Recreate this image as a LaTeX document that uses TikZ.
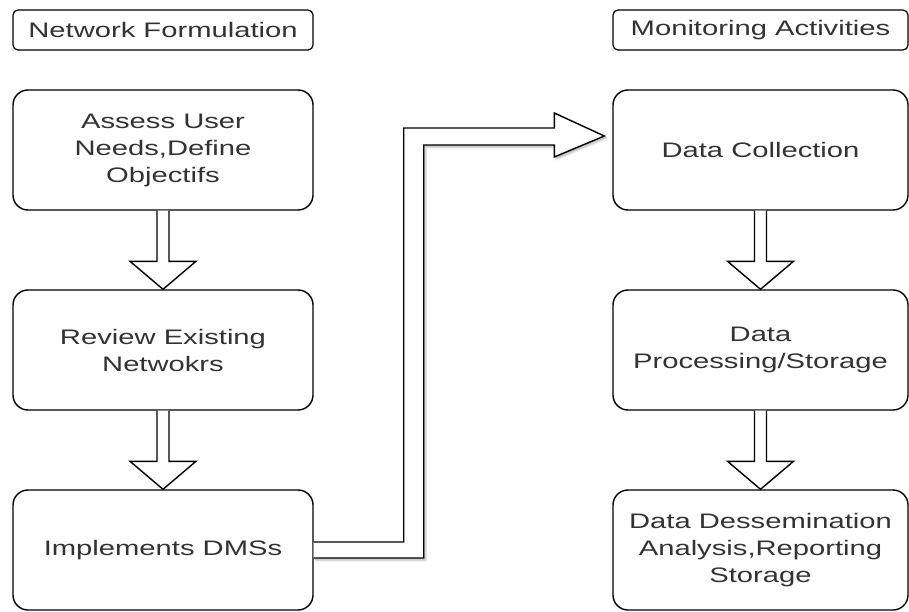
\documentclass[tikz,border=0pt]{standalone}
\usepackage{fontspec}
\setmainfont{Liberation Sans}[FakeStretch=1.39]
\usetikzlibrary{calc,shadows.blur}
\definecolor{txt}{HTML}{333333}

% hollow block arrow pointing down from one box to the next
\newcommand\dropArrow[2]{%
  \draw[blockarrow]
    ($(#1.south)+(-6,0)$) -- ($(#2.north)+(-6,-28)$) -- ($(#2.north)+(-33,-28)$)
    -- (#2.north) -- ($(#2.north)+(33,-28)$) -- ($(#2.north)+(6,-28)$)
    -- ($(#1.south)+(6,0)$);}

\begin{document}
\begin{tikzpicture}[x=1pt,y=-1pt,
  stage/.style={draw=black,line width=1.4pt,rounded corners=15pt,fill=white,
    minimum height=120pt,align=center,inner sep=0pt,text=txt,
    font=\fontsize{21}{27}\selectfont},
  leftstage/.style={stage,minimum width=300pt},
  rightstage/.style={stage,minimum width=295pt},
  header/.style={draw=black,line width=1.2pt,rounded corners=5pt,
    minimum height=40pt,inner sep=0pt,text=txt,
    font=\fontsize{21}{27}\selectfont},
  blockarrow/.style={draw=black,line width=1.4pt,fill=white,line join=miter}]

\useasboundingbox (0,0) rectangle (909,612);

% column headings
\node[header,minimum width=300pt] (hl) at (163,30) {Network Formulation};
\node[header,minimum width=295pt] (hr) at (760.5,30) {Monitoring Activities};

% network formulation steps
\node[leftstage] (needs)  at (163,150) {Assess User\\Needs,Define\\Objectifs};
\node[leftstage] (review) at (163,350) {Review Existing\\Netwokrs};
\node[leftstage] (impl)   at (163,550) {Implements DMSs};

% monitoring activities
\node[rightstage] (coll) at (760.5,150) {Data Collection};
\node[rightstage] (proc) at (760.5,350) {Data\\Processing/Storage};
\node[rightstage] (diss) at (760.5,550) {Data Dessemination\\Analysis,Reporting\\Storage};

\dropArrow{needs}{review}
\dropArrow{review}{impl}
\dropArrow{coll}{proc}
\dropArrow{proc}{diss}

% elbow block arrow linking the two columns
\coordinate (tip) at ($(coll.west)+(-8,-14)$);
\coordinate (bx) at ($(impl.east)+(100,0)$);
\draw[blockarrow,blur shadow={shadow xshift=2pt,shadow yshift=-2pt,shadow opacity=30,shadow blur steps=6}]
  ($(impl.east)+(0,-8)$) -- ($(impl.east)+(90,-8)$)
  -- ($(bx |- tip)+(-10,-8)$) -- ($(tip)+(-50,-8)$) -- ($(tip)+(-50,-23)$)
  -- (tip) -- ($(tip)+(-50,21)$) -- ($(tip)+(-50,9)$)
  -- ($(bx |- tip)+(10,9)$) -- ($(impl.east)+(110,8)$) -- ($(impl.east)+(0,8)$);
\end{tikzpicture}
\end{document}
